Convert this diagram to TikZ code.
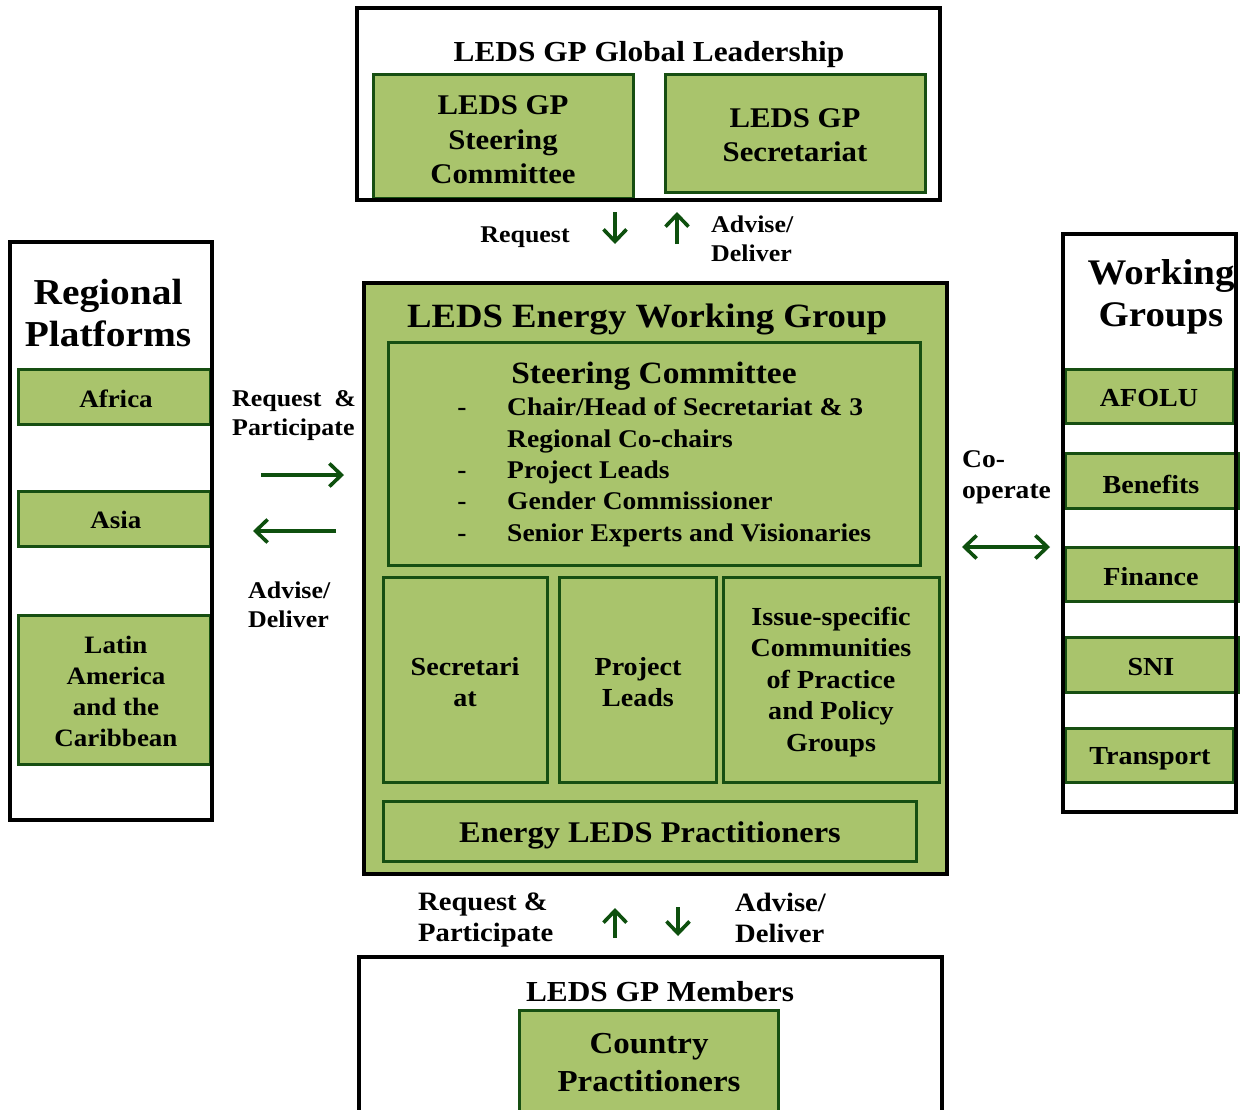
\documentclass[tikz,border=0pt]{standalone}
\usepackage{fontspec}
\setmainfont{Liberation Serif}[FakeStretch=1.08]
\usetikzlibrary{arrows.meta,fit}
\definecolor{lgreen}{HTML}{A9C46C}
\definecolor{dgreen}{HTML}{174F12}
\definecolor{agreen}{HTML}{0E500E}
\newcommand\fsz[2]{\fontsize{#1}{#2}\selectfont\bfseries}
\begin{document}
\begin{tikzpicture}[x=1pt,y=-1pt,
  frame/.style={draw=black,line width=4pt,inner sep=0pt},
  gbox/.style={fill=lgreen,draw=dgreen,line width=3pt,inner sep=0pt},
  txt/.style={inner sep=0pt,align=center,text=black},
  ltxt/.style={inner sep=0pt,align=left,text=black,anchor=west},
  arr/.style={draw=agreen,line width=3.6pt,-{Straight Barb[length=12pt,width=23pt]}},
  darr/.style={draw=agreen,line width=3.6pt,{Straight Barb[length=12pt,width=23pt]}-{Straight Barb[length=12pt,width=23pt]}},
]
\fill[white] (0,0) rectangle (1245,1109);
\useasboundingbox (0,0) rectangle (1245,1109);
\clip (0,0) rectangle (1245,1109);

% ---------- Top: Global Leadership ----------
\node[gbox,fit={(373,74)(633,198)}] (gsc) {};
\node[gbox,fit={(665,74)(925,192)}] (gsec) {};
\node[frame,fit={(357,8)(940,200)}] (lead) {};
\node[txt,font=\fsz{29}{35}] (leadt) at (649,55) {LEDS GP Global Leadership};
\node[txt,font=\fsz{28.5}{34.5}] (gsct) at (503,140) {LEDS GP\\Steering\\Committee};
\node[txt,font=\fsz{28.5}{34.5}] (gsect) at (795,135) {LEDS GP\\Secretariat};

% ---------- Main: Energy Working Group ----------
\node[fill=lgreen,draw=black,line width=4pt,inner sep=0pt,fit={(364,283)(947,874)}] (main) {};
\node[txt,font=\fsz{34}{40}] (maint) at (647,319) {LEDS Energy Working Group};
\node[gbox,fit={(388,342)(920,565)}] (sc) {};
\node[txt,font=\fsz{31}{36}] (sct) at (654,376) {Steering Committee};
\node[inner sep=0pt,anchor=base,font=\fsz{25.5}{31}] (d1) at (462,415) {-};
\node[inner sep=0pt,anchor=base,font=\fsz{25.5}{31}] (d3) at (462,478) {-};
\node[inner sep=0pt,anchor=base,font=\fsz{25.5}{31}] (d4) at (462,509) {-};
\node[inner sep=0pt,anchor=base,font=\fsz{25.5}{31}] (d5) at (462,541) {-};
\node[inner sep=0pt,anchor=base west,font=\fsz{25.5}{31}] (b1) at (507,415) {Chair/Head of Secretariat \& 3};
\node[inner sep=0pt,anchor=base west,font=\fsz{25.5}{31}] (b2) at (507,447) {Regional Co-chairs};
\node[inner sep=0pt,anchor=base west,font=\fsz{25.5}{31}] (b3) at (507,478) {Project Leads};
\node[inner sep=0pt,anchor=base west,font=\fsz{25.5}{31}] (b4) at (507,509) {Gender Commissioner};
\node[inner sep=0pt,anchor=base west,font=\fsz{25.5}{31}] (b5) at (507,541) {Senior Experts and Visionaries};

\node[gbox,fit={(383,577)(547,782)}] (sec) {};
\node[gbox,fit={(559,577)(716,782)}] (pl) {};
\node[gbox,fit={(723,577)(939,782)}] (isp) {};
\node[txt,font=\fsz{26}{31}] (sect) at (465,682) {Secretari\\at};
\node[txt,font=\fsz{26}{31}] (plt) at (638,682) {Project\\Leads};
\node[txt,font=\fsz{26}{31.5}] (ispt) at (831,682) {Issue-specific\\Communities\\of Practice\\and Policy\\Groups};
\node[gbox,fit={(383,801)(916,861)}] (elp) {};
\node[txt,font=\fsz{30}{36}] (elpt) at (650,835) {Energy LEDS Practitioners};

% ---------- Left: Regional Platforms ----------
\node[gbox,fit={(18,369)(210,424)}] (africa) {};
\node[gbox,fit={(18,491)(210,546)}] (asia) {};
\node[gbox,fit={(18,615)(210,764)}] (latam) {};
\node[frame,fit={(10,242)(212,820)}] (reg) {};
\node[txt,font=\fsz{36.5}{42}] (regt) at (108,313) {Regional\\Platforms};
\node[txt,font=\fsz{25}{31}] (africat) at (116,399) {Africa};
\node[txt,font=\fsz{25}{31}] (asiat) at (116,520) {Asia};
\node[txt,font=\fsz{25}{31}] (latamt) at (116,691) {Latin\\America\\and the\\Caribbean};

% ---------- Right: Working Groups ----------
\node[gbox,fit={(1065,369)(1233,423)}] (afolu) {};
\node[gbox,fit={(1065,453)(1238,508)}] (ben) {};
\node[gbox,fit={(1065,547)(1238,601)}] (fin) {};
\node[gbox,fit={(1065,637)(1238,692)}] (sni) {};
\node[gbox,fit={(1065,728)(1233,782)}] (trans) {};
\node[frame,fit={(1063,234)(1236,812)}] (wg) {};
\node[txt,font=\fsz{36}{42}] (wgt) at (1161,297) {Working\\Groups};
\node[txt,font=\fsz{26}{31}] (afolut) at (1149,398) {AFOLU};
\node[txt,font=\fsz{26}{31}] (bent) at (1151,484) {Benefits};
\node[txt,font=\fsz{26}{31}] (fint) at (1151,577) {Finance};
\node[txt,font=\fsz{26}{31}] (snit) at (1151,667) {SNI};
\node[txt,font=\fsz{26}{31}] (transt) at (1150,759) {Transport};

% ---------- Bottom: Members ----------
\node[gbox,fit={(519,1010)(778,1130)}] (cp) {};
\node[frame,fit={(359,957)(942,1130)}] (mem) {};
\node[txt,font=\fsz{29}{35}] (memt) at (660,992) {LEDS GP Members};
\node[txt,font=\fsz{30.5}{38}] (cpt) at (649,1063) {Country\\Practitioners};

% ---------- Labels ----------
\node[txt,font=\fsz{24}{29}] (lreq) at (525,237) {Request};
\node[ltxt,font=\fsz{24}{29}] (ladv) at (711,239) {Advise/\\Deliver};
\node[ltxt,font=\fsz{24}{29}] (lrp) at (232,416) {Request\ \ \&\\Participate};
\node[ltxt,font=\fsz{24}{29}] (lad2) at (248,605) {Advise/\\Deliver};
\node[ltxt,font=\fsz{25.5}{31}] (lco) at (962,477) {Co-\\operate};
\node[ltxt,font=\fsz{26.5}{31}] (lrp2) at (418,920) {Request \&\\Participate};
\node[ltxt,font=\fsz{26.5}{31}] (lad3) at (735,918) {Advise/\\Deliver};

% ---------- Connectors ----------
\draw[arr] ([xshift=-33.5pt,yshift=-10pt]lead.south) -- ([xshift=-40.5pt,yshift=37pt]main.north);
\draw[arr] ([xshift=21.5pt,yshift=37pt]main.north) -- ([xshift=28.5pt,yshift=-10pt]lead.south);
\draw[arr] ([xshift=47pt,yshift=56pt]reg.east) -- ([xshift=-18pt,yshift=103.5pt]main.west);
\draw[arr] ([xshift=-26pt,yshift=47.5pt]main.west) -- ([xshift=39pt,yshift=0pt]reg.east);
\draw[darr] ([xshift=13pt,yshift=31.5pt]main.east) -- ([xshift=-11pt,yshift=-24pt]wg.west);
\draw[arr] ([xshift=-35.5pt,yshift=17pt]mem.north) -- ([xshift=-40.5pt,yshift=-32pt]main.south);
\draw[arr] ([xshift=22.5pt,yshift=-31pt]main.south) -- ([xshift=27.5pt,yshift=19pt]mem.north);
\end{tikzpicture}
\end{document}
